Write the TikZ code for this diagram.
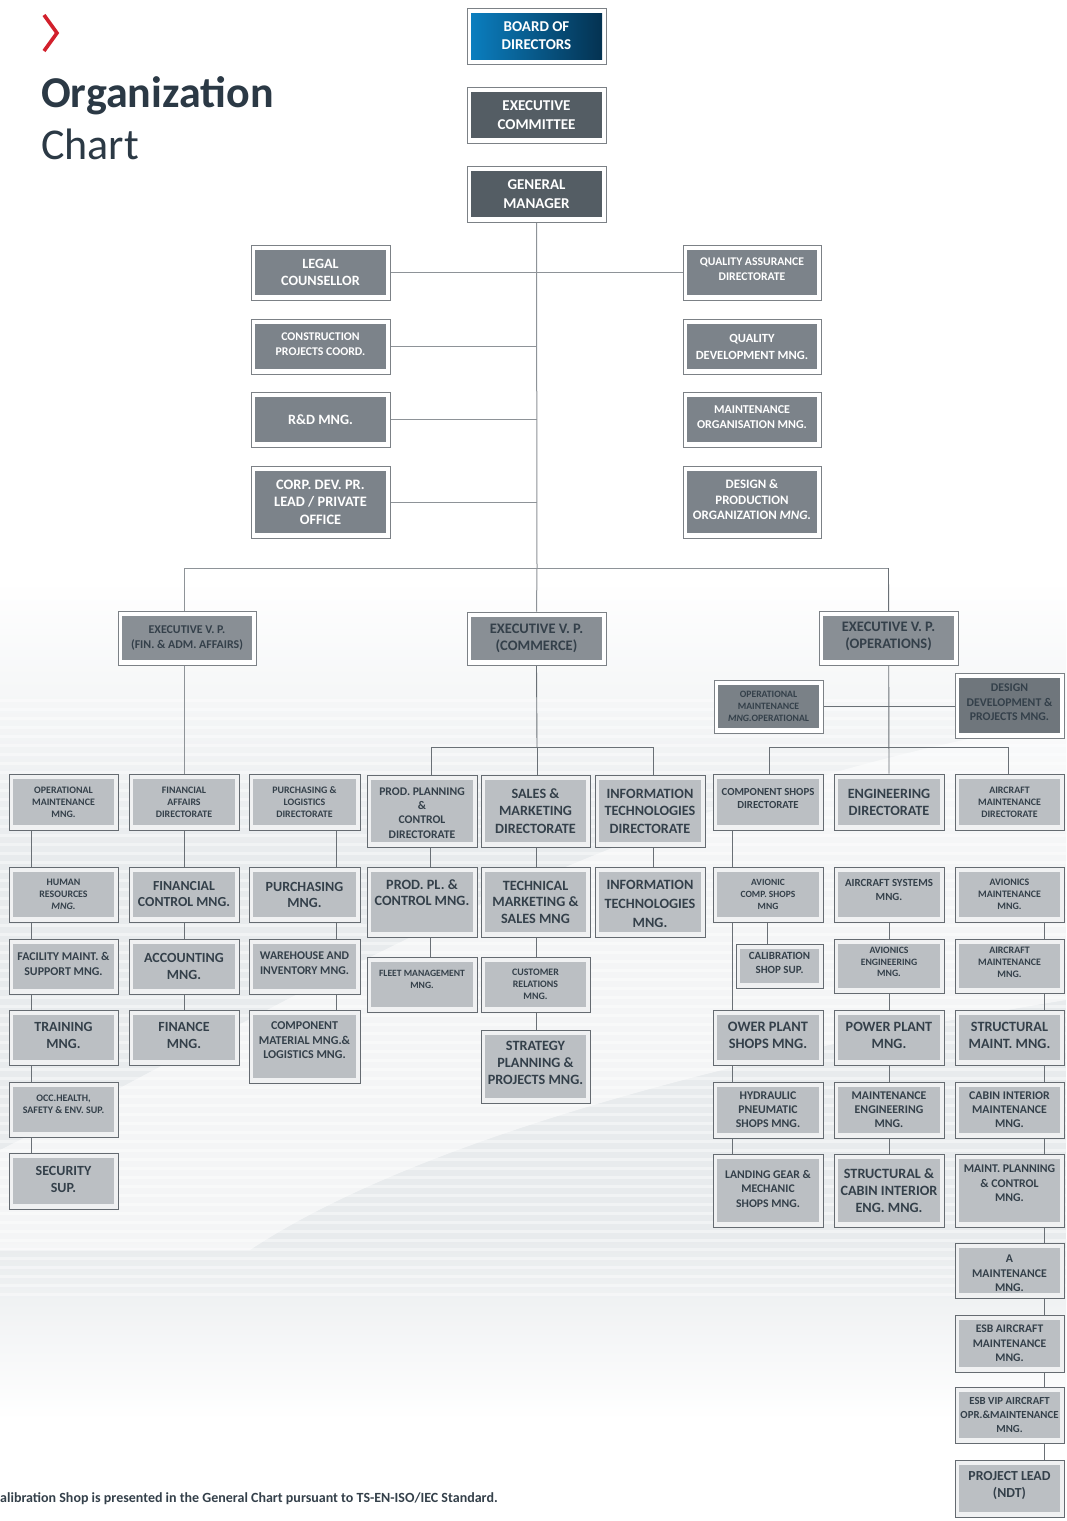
\documentclass[tikz,border=0pt]{standalone}
\usepackage{fontspec}
\setmainfont{Carlito}
\usetikzlibrary{calc}
\definecolor{blueL}{HTML}{0B80C2}
\definecolor{blueM}{HTML}{0A6FAD}
\definecolor{blueR}{HTML}{04304E}
\definecolor{topdark}{HTML}{545D64}
\definecolor{midgray}{HTML}{7C838A}
\definecolor{evpgray}{HTML}{898F95}
\definecolor{opmogray}{HTML}{7A8187}
\definecolor{ddpgray}{HTML}{6F767C}
\definecolor{lowfill}{HTML}{BBBFC3}
\definecolor{lowouter}{HTML}{F0F1F2}
\definecolor{topborder}{HTML}{7C8186}
\definecolor{lowborder}{HTML}{656B71}
\definecolor{textdark}{HTML}{34404A}
\definecolor{titlecol}{HTML}{2B3945}
\definecolor{chevred}{HTML}{D2202C}
\definecolor{tlinecol}{HTML}{8E9398}
\definecolor{llinecol}{HTML}{6A7076}
\definecolor{bgg}{HTML}{E8EBED}
\pgfdeclarelayer{back}
\pgfdeclarelayer{lines}
\pgfsetlayers{back,lines,main}
\tikzset{
  inbox/.style={path picture={\fill[#1] ([shift={(4pt,-5pt)}]path picture bounding box.north west) rectangle ([shift={(-4pt,5pt)}]path picture bounding box.south east);}},
  ob/.style={draw=topborder, line width=0.9pt, fill=white, inner sep=0pt},
  bluebox/.style={ob, path picture={\shade[left color=blueL, middle color=blueM, right color=blueR] ([shift={(4pt,-5pt)}]path picture bounding box.north west) rectangle ([shift={(-4pt,5pt)}]path picture bounding box.south east);}},
  darkbox/.style={ob, inbox=topdark},
  midbox/.style={ob, inbox=midgray},
  evpbox/.style={ob, inbox=evpgray},
  opmobox/.style={ob, inbox=opmogray},
  ddpbox/.style={ob, inbox=ddpgray},
  lowbox/.style={draw=lowborder, line width=0.9pt, fill=lowouter, inner sep=0pt, inbox=lowfill},
  txt/.style={inner sep=0pt, align=center},
  fs/.style n args={2}{font=\fontsize{#1}{#2}\selectfont\bfseries},
  wt/.style={text=white},
  dk/.style={text=textdark},
  tline/.style={draw=tlinecol, line width=1pt},
  lline/.style={draw=llinecol, line width=0.9pt},
}
\newcommand\ob[9][0]{%
  \node[#7, minimum width={(#5-#3)*1pt}, minimum height={(#6-#4)*1pt}] (#2) at ({(#3+#5)/2},{(#4+#6)/2}) {};
  \node[txt,#8] (#2-t) at ([yshift=#1pt]#2.center) {#9};}
\begin{document}
\begin{tikzpicture}[x=1pt,y=-1pt]
\useasboundingbox (0,0) rectangle (1066,1521);
\begin{pgfonlayer}{back}
  \fill[white] (0,0) rectangle (1066,1521);
  \shade[top color=white, bottom color=bgg] (0,580) rectangle (1066,860);
  \fill[bgg] (0,859) rectangle (1066,1240);
  \shade[top color=bgg, bottom color=white] (0,1239) rectangle (1066,1420);
  \fill[white, opacity=0.55] (0,1150) .. controls (300,1000) and (600,800) .. (1066,720) -- (1066,1000) .. controls (700,1060) and (400,1150) .. (250,1250) -- (0,1250) -- cycle;
  \foreach \yy in {700,709,...,1300} \draw[white, opacity=0.4, line width=3pt] (0,\yy) -- (1066,\yy);
\end{pgfonlayer}

% title
\draw[chevred, line width=3.6pt, line join=miter] (44,15) -- (57,33) -- (44,51);
\node[anchor=base west, inner sep=0pt, text=titlecol, font=\fontsize{44}{44}\selectfont\bfseries] (title1) at (41,107) {Organization};
\node[anchor=base west, inner sep=0pt, text=titlecol, font=\fontsize{44}{44}\selectfont] (title2) at (41,159) {Chart};

% top
\ob{board}{467}{8}{606}{64}{bluebox}{fs={15}{18},wt}{BOARD OF\\DIRECTORS}
\ob{exec}{467}{87}{606}{143}{darkbox}{fs={15}{19},wt}{EXECUTIVE\\COMMITTEE}
\ob{gm}{467}{166}{606}{222}{darkbox}{fs={15}{19},wt}{GENERAL\\MANAGER}

\ob{legal}{251}{245}{390}{300}{midbox}{fs={14.2}{17},wt}{LEGAL\\COUNSELLOR}
\ob[2]{constr}{251}{319}{390}{374}{midbox}{fs={11.8}{15},wt}{CONSTRUCTION\\PROJECTS COORD.}
\ob{rnd}{251}{392}{390}{447}{midbox}{fs={14.2}{17},wt}{R\&D MNG.}
\ob{corp}{251}{466}{390}{538}{midbox}{fs={14.4}{17.5},wt}{CORP. DEV. PR.\\LEAD / PRIVATE\\OFFICE}

\ob[3]{qa}{683}{245}{821}{300}{midbox}{fs={11.7}{15},wt}{QUALITY ASSURANCE\\DIRECTORATE}
\ob{qd}{683}{319}{821}{374}{midbox}{fs={12.5}{17},wt}{QUALITY\\DEVELOPMENT MNG.}
\ob[2]{mo}{683}{392}{821}{447}{midbox}{fs={12}{15},wt}{MAINTENANCE\\ORGANISATION MNG.}
\ob[2]{dp}{683}{466}{821}{538}{midbox}{fs={12.9}{15.5},wt}{DESIGN \&\\PRODUCTION\\ORGANIZATION \textit{MNG.}}

% EVPs
\ob{evpf}{118}{611}{256}{665}{evpbox}{fs={11.9}{15},dk}{EXECUTIVE V. P.\\(FIN. \& ADM. AFFAIRS)}
\ob{evpc}{467}{612}{606}{665}{evpbox}{fs={14.5}{17},dk}{EXECUTIVE V. P.\\(COMMERCE)}
\ob[2]{evpo}{819}{611}{958}{665}{evpbox}{fs={14.5}{17},dk}{EXECUTIVE V. P.\\(OPERATIONS)}
\ob{opmo}{714}{680}{823}{733}{opmobox}{fs={9.7}{12},dk}{OPERATIONAL\\MAINTENANCE\\\textit{MNG.}OPERATIONAL}
\ob[3]{ddp}{955}{673}{1064}{738}{ddpbox}{fs={11.8}{14.5},dk}{DESIGN\\DEVELOPMENT \&\\PROJECTS MNG.}

% finance column
\ob{opm}{9}{774}{118}{830}{lowbox}{fs={9.9}{12},dk}{OPERATIONAL\\MAINTENANCE\\MNG.}
\ob{hr}{9}{867}{118}{922}{lowbox}{fs={9.9}{12},dk}{HUMAN\\RESOURCES\\\textit{MNG.}}
\ob[3]{fac}{9}{939}{118}{994}{lowbox}{fs={11.9}{15},dk}{FACILITY MAINT. \&\\SUPPORT MNG.}
\ob[2]{trn}{9}{1010}{118}{1065}{lowbox}{fs={14}{17},dk}{TRAINING\\MNG.}
\ob[5]{occ}{9}{1082}{118}{1137}{lowbox}{fs={10}{12},dk}{OCC.HEALTH,\\SAFETY \& ENV. SUP.}
\ob[2]{sec}{9}{1153}{118}{1209}{lowbox}{fs={14}{17},dk}{SECURITY\\SUP.}

\ob{faff}{129}{774}{239}{830}{lowbox}{fs={9.9}{12},dk}{FINANCIAL\\AFFAIRS\\DIRECTORATE}
\ob{fcm}{129}{867}{239}{922}{lowbox}{fs={13.8}{16},dk}{FINANCIAL\\CONTROL MNG.}
\ob{acc}{129}{939}{239}{994}{lowbox}{fs={14}{17},dk}{ACCOUNTING\\MNG.}
\ob[2]{fin}{129}{1010}{239}{1065}{lowbox}{fs={14}{17},dk}{FINANCE\\MNG.}

\ob{pld}{249}{774}{360}{830}{lowbox}{fs={9.9}{12},dk}{PURCHASING \&\\LOGISTICS\\DIRECTORATE}
\ob{pur}{249}{867}{360}{922}{lowbox}{fs={14}{16},dk}{PURCHASING\\MNG.}
\ob[3]{wh}{249}{939}{360}{994}{lowbox}{fs={11.8}{15},dk}{WAREHOUSE AND\\INVENTORY MNG.}
\ob[6]{cml}{249}{1010}{360}{1083}{lowbox}{fs={12}{14.5},dk}{COMPONENT\\MATERIAL MNG.\&\\LOGISTICS MNG.}

% commerce
\ob[-2]{ppc}{367}{775}{477}{847}{lowbox}{fs={11.7}{14.3},dk}{PROD. PLANNING\\\&\\CONTROL\\DIRECTORATE}
\ob{smd}{481}{775}{590}{847}{lowbox}{fs={14.2}{17.5},dk}{SALES \&\\MARKETING\\DIRECTORATE}
\ob{itd}{595}{775}{705}{847}{lowbox}{fs={14.2}{17.5},dk}{INFORMATION\\TECHNOLOGIES\\DIRECTORATE}
\ob[9]{ppcm}{367}{867}{477}{937}{lowbox}{fs={14.2}{16},dk}{PROD. PL. \&\\CONTROL MNG.}
\ob{tms}{481}{867}{590}{937}{lowbox}{fs={14.2}{16.5},dk}{TECHNICAL\\MARKETING \&\\SALES MNG}
\ob[-2]{itm}{595}{867}{705}{937}{lowbox}{fs={14.2}{19},dk}{INFORMATION\\TECHNOLOGIES\\MNG.}
\ob[5]{fleet}{367}{957}{477}{1012}{lowbox}{fs={9.6}{12.5},dk}{FLEET MANAGEMENT\\MNG.}
\ob{cust}{481}{957}{590}{1012}{lowbox}{fs={9.9}{12},dk}{CUSTOMER\\RELATIONS\\MNG.}
\ob[4]{strat}{481}{1030}{590}{1103}{lowbox}{fs={14.2}{17},dk}{STRATEGY\\PLANNING \&\\PROJECTS MNG.}

% operations
\ob[4]{csd}{713}{774}{823}{830}{lowbox}{fs={10.8}{13},dk}{COMPONENT SHOPS\\DIRECTORATE}
\ob{engd}{834}{774}{944}{830}{lowbox}{fs={14.2}{17},dk}{ENGINEERING\\DIRECTORATE}
\ob{amd}{955}{774}{1064}{830}{lowbox}{fs={9.9}{12},dk}{AIRCRAFT\\MAINTENANCE\\DIRECTORATE}
\ob{acs}{713}{867}{823}{922}{lowbox}{fs={9.5}{12},dk}{AVIONIC\\COMP. SHOPS\\MNG}
\ob[5]{asys}{834}{867}{944}{922}{lowbox}{fs={10.9}{14},dk}{AIRCRAFT SYSTEMS\\MNG.}
\ob{avm}{955}{867}{1064}{922}{lowbox}{fs={9.9}{12},dk}{AVIONICS\\MAINTENANCE\\MNG.}
\ob[3]{cal}{736}{944}{823}{988}{lowbox}{fs={11}{14},dk}{CALIBRATION\\SHOP SUP.}
\ob[4]{aveng}{834}{939}{944}{993}{lowbox}{fs={9.7}{11.5},dk}{AVIONICS\\ENGINEERING\\MNG.}
\ob[4]{acm}{955}{939}{1064}{993}{lowbox}{fs={9.9}{12},dk}{AIRCRAFT\\MAINTENANCE\\MNG.}
\ob[2]{pps}{713}{1010}{823}{1065}{lowbox}{fs={14.4}{17},dk}{OWER PLANT\\SHOPS MNG.}
\ob[2]{ppm}{834}{1010}{944}{1065}{lowbox}{fs={14.2}{17},dk}{POWER PLANT\\MNG.}
\ob[2]{smm}{955}{1010}{1064}{1065}{lowbox}{fs={14.2}{17},dk}{STRUCTURAL\\MAINT. MNG.}
\ob{hyd}{713}{1082}{823}{1138}{lowbox}{fs={11.8}{14},dk}{HYDRAULIC\\PNEUMATIC\\SHOPS MNG.}
\ob{meng}{834}{1082}{944}{1138}{lowbox}{fs={11.8}{14},dk}{MAINTENANCE\\ENGINEERING\\MNG.}
\ob{cim}{955}{1082}{1064}{1138}{lowbox}{fs={11.8}{14},dk}{CABIN INTERIOR\\MAINTENANCE\\MNG.}
\ob[2]{lgm}{713}{1154}{823}{1227}{lowbox}{fs={11.7}{14.5},dk}{LANDING GEAR \&\\MECHANIC\\SHOPS MNG.}
\ob{scie}{834}{1154}{944}{1227}{lowbox}{fs={14.2}{17},dk}{STRUCTURAL \&\\CABIN INTERIOR\\ENG. MNG.}
\ob[7]{mpc}{955}{1154}{1064}{1227}{lowbox}{fs={11.8}{14.5},dk}{MAINT. PLANNING\\\& CONTROL\\MNG.}
\ob[-3]{amm}{955}{1243}{1064}{1298}{lowbox}{fs={11.8}{14.5},dk}{A\\MAINTENANCE\\MNG.}
\ob{esb}{955}{1315}{1064}{1372}{lowbox}{fs={11.6}{14.5},dk}{ESB AIRCRAFT\\MAINTENANCE\\MNG.}
\ob{vip}{955}{1387}{1064}{1443}{lowbox}{fs={10.8}{14},dk}{ESB VIP AIRCRAFT\\OPR.\&MAINTENANCE\\MNG.}
\ob[3]{ndt}{955}{1460}{1064}{1517}{lowbox}{fs={13.8}{17},dk}{PROJECT LEAD\\(NDT)}

% footnote
\node[anchor=base west, inner sep=0pt, text=textdark, font=\fontsize{14}{16}\selectfont\bfseries] (foot) at (0,1502) {alibration Shop is presented in the General Chart pursuant to TS-EN-ISO/IEC Standard.};

% connectors
\coordinate (hb) at (537,568);
\coordinate (cb) at (537,747);
\coordinate (cbl) at (431,747);
\coordinate (cbr) at (653,747);
\coordinate (obl) at (769,747);
\coordinate (obr) at (1008,747);
\coordinate (calt) at ([xshift=55pt]acs.south west);
\begin{pgfonlayer}{lines}
  \draw[tline] (gm.south) -- (hb);
  \draw[tline] (legal.east) -- (qa.west);
  \draw[tline] (constr.east) -- (constr.east -| gm.south);
  \draw[tline] (rnd.east) -- (rnd.east -| gm.south);
  \draw[tline] (corp.east) -- (corp.east -| gm.south);
  \draw[tline] (faff.north |- hb) -- (evpo.north |- hb);
  \draw[tline] (faff.north |- hb) -- (faff.north);
  \draw[tline] (hb) -- (evpc.north);
  \draw[lline] (evpo.north |- hb) -- (engd.north);
  \draw[lline] (opmo.east) -- (opmo.east -| ddp.west);
  \draw[lline] (evpc.south) -- (cb);
  \draw[lline] (cbl) -- (cbr);
  \draw[lline] (cbl) -- (cbl |- ppc.north);
  \draw[lline] (cb) -- (cb |- smd.north);
  \draw[lline] (cbr) -- (cbr |- itd.north);
  \draw[lline] (obl) -- (obr);
  \draw[lline] (obl) -- (obl |- csd.north);
  \draw[lline] (obr) -- (obr |- amd.north);
  \foreach \a/\b in {opm/hr,hr/fac,fac/trn,trn/occ,occ/sec}
    \draw[lline] ([xshift=23pt]\a.south west) -- ([xshift=23pt]\b.north west);
  \foreach \a/\b in {faff/fcm,fcm/acc,acc/fin}
    \draw[lline] (\a.south) -- (\b.north);
  \foreach \a/\b in {pld/pur,pur/wh,wh/cml}
    \draw[lline] ([xshift=-24pt]\a.south east) -- ([xshift=-24pt]\b.north east);
  \foreach \a/\b in {ppc/ppcm,ppcm/fleet}
    \draw[lline] ([xshift=64pt]\a.south west) -- ([xshift=64pt]\b.north west);
  \foreach \a/\b in {smd/tms,tms/cust,cust/strat}
    \draw[lline] ([xshift=56pt]\a.south west) -- ([xshift=56pt]\b.north west);
  \draw[lline] ([xshift=-52pt]itd.south east) -- ([xshift=-52pt]itm.north east);
  \foreach \a/\b in {csd/acs,acs/pps,pps/hyd,hyd/lgm}
    \draw[lline] ([xshift=20pt]\a.south west) -- ([xshift=20pt]\b.north west);
  \draw[lline] (calt) -- (calt |- cal.north);
  \foreach \a/\b in {asys/aveng,aveng/ppm,ppm/meng,meng/scie}
    \draw[lline] (\a.south) -- (\b.north);
  \foreach \a/\b in {avm/acm,acm/smm,smm/cim,cim/mpc,mpc/amm,amm/esb,esb/vip,vip/ndt}
    \draw[lline] ([xshift=-20pt]\a.south east) -- ([xshift=-20pt]\b.north east);
\end{pgfonlayer}
\end{tikzpicture}
\end{document}
